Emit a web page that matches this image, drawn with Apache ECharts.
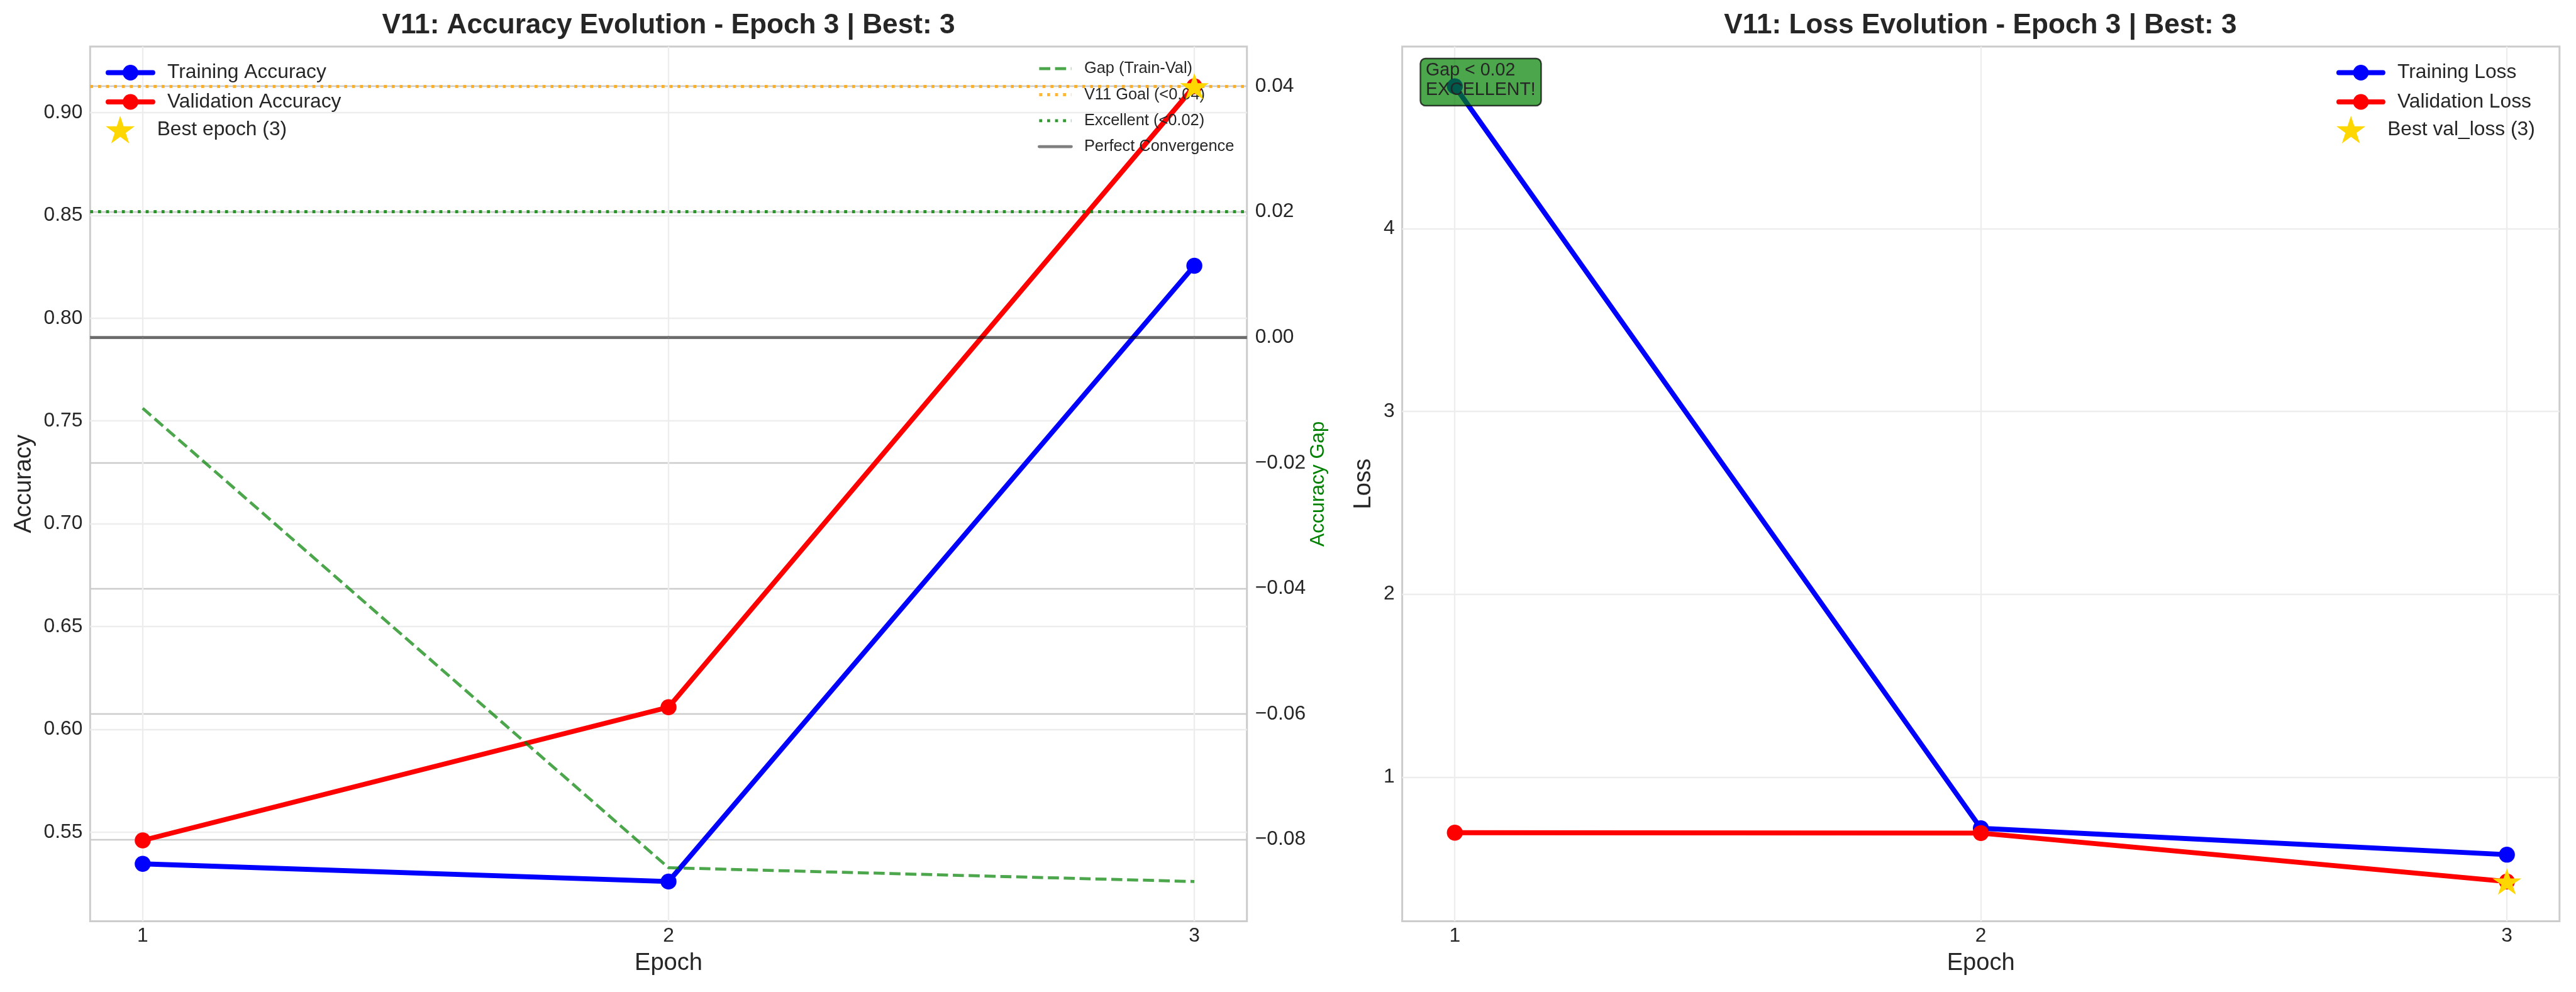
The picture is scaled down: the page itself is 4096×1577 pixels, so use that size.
<!DOCTYPE html>
<html>
<head>
<meta charset="utf-8">
<script src="https://cdn.jsdelivr.net/npm/echarts@6/dist/echarts.min.js"></script>
<style>
html,body{margin:0;padding:0;background:#ffffff;}
#chart{width:4096px;height:1577px;}
</style>
</head>
<body>
<div id="chart"></div>
<script>
// ---------------- data ----------------
const epochs = [1, 2, 3];
const trainAcc = [0.5346, 0.5260, 0.8255];
const valAcc = [0.5460, 0.6108, 0.9128];
const accGap = [-0.0113, -0.0845, -0.0867];
const trainLoss = [4.778, 0.720, 0.576];
const valLoss = [0.696, 0.694, 0.429];
const bestEpoch = 3;
const goalGap = 0.04;
const excellentGap = 0.02;
const perfectGap = 0.0;
const epochTicks = [1, 2, 3];
const accTicks = [0.55, 0.60, 0.65, 0.70, 0.75, 0.80, 0.85, 0.90];
const gapTicks = [-0.08, -0.06, -0.04, -0.02, 0.00, 0.02, 0.04];
const lossTicks = [1, 2, 3, 4];
const titleAcc = 'V11: Accuracy Evolution - Epoch 3 | Best: 3';
const titleLoss = 'V11: Loss Evolution - Epoch 3 | Best: 3';
const noteText = 'Gap < 0.02\nEXCELLENT!';

// ---------------- helpers ----------------
function pad(values) {
  const lo = Math.min.apply(null, values), hi = Math.max.apply(null, values);
  const s = hi - lo;
  return [lo - 0.05 * s, hi + 0.05 * s];
}
const xRange = pad(epochs);
const accRange = pad(trainAcc.concat(valAcc));
const gapRange = pad(accGap.concat([goalGap, excellentGap, perfectGap]));
const lossRange = pad(trainLoss.concat(valLoss));
const pts = ys => epochs.map((e, i) => [e, ys[i]]);
const bi = epochs.indexOf(bestEpoch);

function starPath() {
  let p = '';
  for (let k = 0; k < 10; k++) {
    const r = (k % 2 === 0) ? 100 : 38.1966;
    const a = -Math.PI / 2 + k * Math.PI / 5;
    p += (k ? 'L' : 'M') + (r * Math.cos(a)).toFixed(2) + ',' + (r * Math.sin(a)).toFixed(2);
  }
  return 'path://' + p + 'Z';
}
const STAR = starPath();

const FONT = '"Liberation Sans", Arial, Helvetica, sans-serif';
const TXT = '#262626';
const TICK = 31.75;
const LBL = 38.1;
const BLUE = '#0000ff', RED = '#ff0000', GOLD = '#FFD700';
const GAPC = 'rgba(0,128,0,0.7)', GOALC = 'rgba(255,165,0,0.8)', EXCC = 'rgba(0,128,0,0.8)', PERFC = 'rgba(0,0,0,0.5)';
const DASH = [17.6, 7.6], DOT = [4.76, 7.86];
const minus = v => (v < 0 ? '\u2212' : '') + Math.abs(v).toFixed(2);

function xAxisCfg(gi) {
  return {
    type: 'value', gridIndex: gi, min: xRange[0], max: xRange[1],
    name: 'Epoch', nameLocation: 'middle', nameGap: 47.8,
    nameTextStyle: {fontSize: LBL, color: TXT, fontFamily: FONT},
    axisLine: {show: false},
    axisTick: {show: false, customValues: epochTicks},
    axisLabel: {customValues: epochTicks, fontSize: TICK, color: TXT, fontFamily: FONT, margin: 7.4,
      formatter: v => String(v)},
    splitLine: {show: true, lineStyle: {color: '#ededed', width: 2.4}}
  };
}

const solidLine = (name, xi, yi, ys, color) => ({
  name, type: 'line', xAxisIndex: xi, yAxisIndex: yi, data: pts(ys),
  symbol: 'circle', symbolSize: 25.4, showSymbol: true,
  itemStyle: {color, opacity: 1}, lineStyle: {color, width: 7.9, cap: 'round', join: 'round'},
  z: 2, silent: true
});

const refLine = (name, value, color, type) => ({
  name, type: 'line', xAxisIndex: 0, yAxisIndex: 1, data: [],
  symbol: 'none', itemStyle: {color},
  lineStyle: {color, width: 4.76, type},
  z: 3,
  markLine: {
    silent: true, symbol: ['none', 'none'], label: {show: false},
    lineStyle: {color, width: 4.76, type},
    emphasis: {disabled: true},
    data: [{yAxis: value}]
  }
});

const starSeries = (name, xi, yi, ys) => ({
  name, type: 'scatter', xAxisIndex: xi, yAxisIndex: yi,
  data: [[bestEpoch, ys[bi]]],
  symbol: STAR, symbolSize: [46, 43.7], symbolKeepAspect: true,
  itemStyle: {color: GOLD, opacity: 1}, z: 10, silent: true
});

const legendText = (fs, padL) => ({fontSize: fs, color: TXT, fontFamily: FONT, padding: [0, 0, 0, padL]});
const lineItem = (name, color) => ({name, lineStyle: {color, width: 7.9, cap: 'round', type: 'solid'}, itemStyle: {color, opacity: 1}});
const refItem = (name, color, type, cap) => ({name, lineStyle: {color, width: 4.76, type, cap}});
const starItem = name => ({name, itemStyle: {color: GOLD, opacity: 1}});

const option = {
  animation: false,
  backgroundColor: '#ffffff',
  textStyle: {fontFamily: FONT},
  title: [
    {text: titleAcc, left: 1063, top: 19, textAlign: 'center', padding: 0,
      textStyle: {fontSize: 44.2, fontWeight: 'bold', color: TXT, fontFamily: FONT}},
    {text: titleLoss, left: 3149, top: 19, textAlign: 'center', padding: 0,
      textStyle: {fontSize: 44.2, fontWeight: 'bold', color: TXT, fontFamily: FONT}},
    {text: noteText, left: 2258, top: 93, padding: [3.5, 9, 9.5, 9],
      backgroundColor: 'rgba(0,128,0,0.7)', borderColor: 'rgba(0,0,0,0.7)', borderWidth: 2.5, borderRadius: 8,
      textStyle: {fontSize: 28.6, lineHeight: 31, fontWeight: 'normal', color: TXT, fontFamily: FONT}}
  ],
  grid: [
    {left: 143.3, top: 73.9, width: 1839.4, height: 1390.7, show: true, borderColor: '#cccccc', borderWidth: 3, backgroundColor: 'transparent'},
    {left: 2229.6, top: 73.9, width: 1840.2, height: 1390.7, show: true, borderColor: '#cccccc', borderWidth: 3, backgroundColor: 'transparent'}
  ],
  xAxis: [xAxisCfg(0), xAxisCfg(1)],
  yAxis: [
    {type: 'value', gridIndex: 0, position: 'left', min: accRange[0], max: accRange[1],
      name: 'Accuracy', nameLocation: 'middle', nameRotate: 90, nameGap: 86,
      nameTextStyle: {fontSize: LBL, color: TXT, fontFamily: FONT},
      axisLine: {show: false}, axisTick: {show: false, customValues: accTicks},
      axisLabel: {customValues: accTicks, fontSize: TICK, color: TXT, fontFamily: FONT, margin: 12,
        formatter: v => v.toFixed(2)},
      splitLine: {show: true, lineStyle: {color: '#ededed', width: 2.4}}},
    {type: 'value', gridIndex: 0, position: 'right', min: gapRange[0], max: gapRange[1],
      name: 'Accuracy Gap', nameLocation: 'middle', nameRotate: 90, nameGap: 98,
      nameTextStyle: {fontSize: TICK, color: '#008000', fontFamily: FONT},
      axisLine: {show: false}, axisTick: {show: false, customValues: gapTicks},
      axisLabel: {customValues: gapTicks, fontSize: TICK, color: TXT, fontFamily: FONT, margin: 13,
        formatter: minus},
      splitLine: {show: true, lineStyle: {color: '#cccccc', width: 2.4}}},
    {type: 'value', gridIndex: 1, position: 'left', min: lossRange[0], max: lossRange[1],
      name: 'Loss', nameLocation: 'middle', nameRotate: 90, nameGap: 42.6,
      nameTextStyle: {fontSize: LBL, color: TXT, fontFamily: FONT},
      axisLine: {show: false}, axisTick: {show: false, customValues: lossTicks},
      axisLabel: {customValues: lossTicks, fontSize: TICK, color: TXT, fontFamily: FONT, margin: 12,
        formatter: v => String(v)},
      splitLine: {show: true, lineStyle: {color: '#ededed', width: 2.4}}}
  ],
  legend: [
    {left: 168, top: 99.5, orient: 'vertical', padding: 0, itemWidth: 71, itemHeight: 31, itemGap: 14.5,
      selectedMode: false, lineStyle: {width: 7.9},
      data: [lineItem('Training Accuracy', BLUE), lineItem('Validation Accuracy', RED)],
      textStyle: legendText(TICK, 18)},
    {left: 168, top: 184, orient: 'vertical', padding: 0, itemWidth: 71, itemHeight: 44,
      selectedMode: false, data: [starItem('Best epoch (3)')], textStyle: legendText(TICK, 18)},
    {left: 1650, top: 96.7, orient: 'vertical', padding: 0, itemWidth: 51, itemHeight: 20, itemGap: 16.3,
      selectedMode: false, itemStyle: {opacity: 0},
      data: [refItem('Gap (Train-Val)', GAPC, DASH, 'butt'), refItem('V11 Goal (<0.04)', GOALC, DOT, 'butt'),
        refItem('Excellent (<0.02)', EXCC, DOT, 'butt'), refItem('Perfect Convergence', PERFC, 'solid', 'round')],
      textStyle: legendText(25.4, 15.5)},
    {left: 3715, top: 99.5, orient: 'vertical', padding: 0, itemWidth: 70, itemHeight: 31, itemGap: 14.5,
      selectedMode: false, lineStyle: {width: 7.9},
      data: [lineItem('Training Loss', BLUE), lineItem('Validation Loss', RED)],
      textStyle: legendText(TICK, 18)},
    {left: 3715, top: 184, orient: 'vertical', padding: 0, itemWidth: 70, itemHeight: 44,
      selectedMode: false, data: [starItem('Best val_loss (3)')], textStyle: legendText(TICK, 18)}
  ],
  series: [
    solidLine('Training Accuracy', 0, 0, trainAcc, BLUE),
    solidLine('Validation Accuracy', 0, 0, valAcc, RED),
    {name: 'Gap (Train-Val)', type: 'line', xAxisIndex: 0, yAxisIndex: 1, data: pts(accGap),
      symbol: 'none', itemStyle: {color: GAPC},
      lineStyle: {color: GAPC, width: 4.76, type: DASH}, z: 3, silent: true},
    refLine('V11 Goal (<0.04)', goalGap, GOALC, DOT),
    refLine('Excellent (<0.02)', excellentGap, EXCC, DOT),
    refLine('Perfect Convergence', perfectGap, PERFC, 'solid'),
    starSeries('Best epoch (3)', 0, 0, valAcc),
    solidLine('Training Loss', 1, 2, trainLoss, BLUE),
    solidLine('Validation Loss', 1, 2, valLoss, RED),
    starSeries('Best val_loss (3)', 1, 2, valLoss)
  ]
};

const chart = echarts.init(document.getElementById('chart'), null, {renderer: 'canvas'});
chart.setOption(option);
</script>
</body>
</html>
